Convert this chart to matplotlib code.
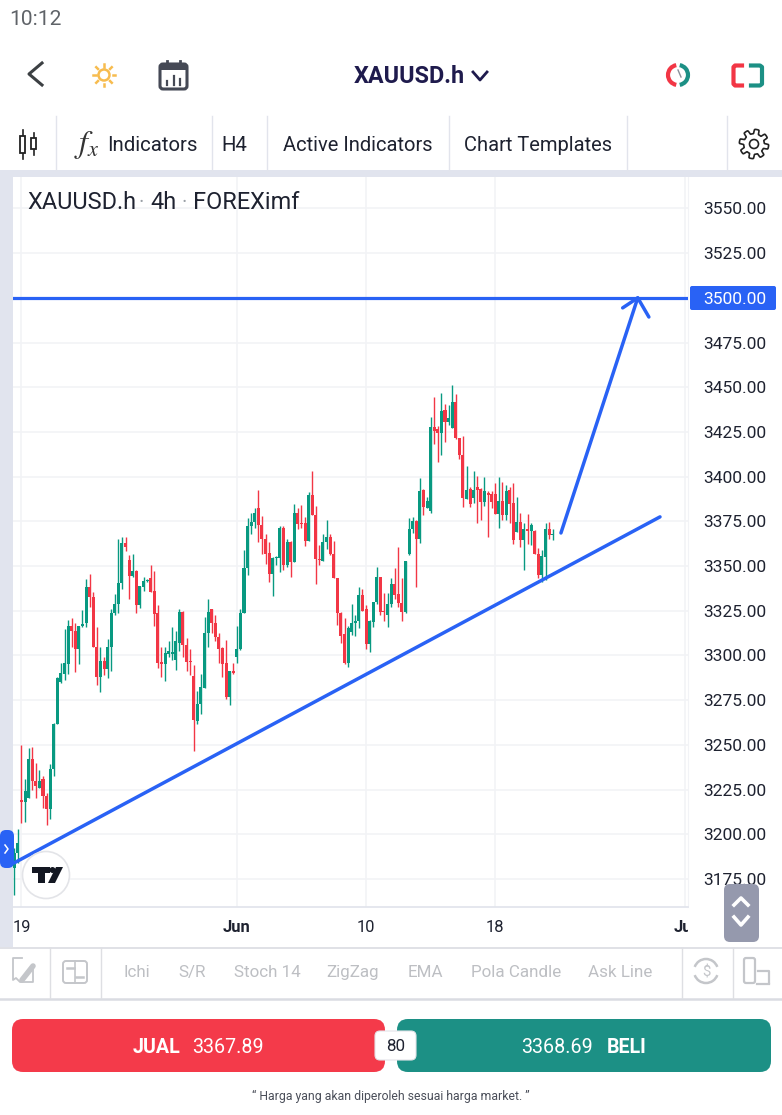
import numpy as np
import matplotlib
matplotlib.use("Agg")
import matplotlib.pyplot as plt
from matplotlib.patches import FancyBboxPatch, Rectangle, Circle, Polygon, Wedge, Arc
from matplotlib.transforms import Bbox

plt.rcParams['font.family'] = ['Roboto', 'DejaVu Sans']
plt.rcParams['mathtext.fontset'] = 'stix'

# ---------- data ----------
opens = [3181.0,3189.4,3219.2,3218.3,3220.5,3242.0,3230.0,3226.1,3230.8,3221.5,
3214.0,3236.4,3261.5,3285.4,3289.7,3295.3,3316.5,3313.9,3303.5,3316.5,
3318.0,3338.1,3332.6,3305.0,3287.8,3297.1,3292.5,3305.0,3323.6,3328.8,
3340.4,3362.8,3353.4,3344.5,3347.5,3328.3,3338.5,3341.5,3343.2,3336.3,
3323.6,3296.2,3295.1,3300.9,3300.9,3297.5,3307.2,3324.5,3305.9,3297.0,
3288.6,3263.6,3272.7,3282.0,3312.4,3325.8,3318.4,3310.2,3304.0,3295.6,
3277.0,3291.4,3299.4,3303.5,3324.0,3348.7,3372.4,3374.6,3382.6,3372.8,
3365.1,3357.1,3345.6,3354.3,3354.3,3371.1,3350.6,3363.3,3352.4,3379.5,
3373.9,3373.9,3364.2,3389.7,3378.5,3353.8,3352.8,3363.6,3366.4,3356.7,
3343.1,3323.9,3312.0,3296.0,3313.3,3318.3,3319.5,3333.8,3326.0,3306.4,
3318.5,3329.7,3343.7,3324.9,3322.6,3328.8,3339.8,3334.2,3329.5,3324.3,
3356.5,3370.7,3375.2,3365.1,3392.5,3382.6,3381.0,3427.6,3426.5,3424.3,
3437.3,3430.8,3427.4,3441.6,3421.5,3412.2,3387.6,3393.0,3387.9,3394.1,
3393.0,3386.1,3390.7,3390.3,3390.3,3379.0,3386.6,3378.6,3392.6,3385.5,
3369.3,3374.9,3364.6,3370.8,3369.8,3369.8,3356.8,3345.1,3355.3,3370.8,
3367.4]
highs = [3192.2,3202.8,3250.0,3230.8,3248.1,3248.7,3240.1,3236.0,3232.6,3223.0,
3239.2,3262.1,3287.8,3295.6,3314.7,3319.9,3320.8,3318.0,3316.5,3325.5,
3343.0,3345.4,3335.7,3315.8,3305.0,3299.0,3309.1,3325.8,3334.4,3365.0,
3366.1,3366.1,3356.2,3356.8,3347.8,3338.9,3343.7,3342.6,3350.4,3347.5,
3328.3,3305.0,3305.0,3308.3,3315.8,3313.4,3325.8,3325.1,3309.6,3303.5,
3294.7,3280.2,3289.7,3321.7,3331.4,3325.8,3322.7,3312.4,3304.6,3308.7,
3291.5,3295.6,3316.5,3325.8,3359.0,3376.7,3379.5,3382.3,3392.5,3378.2,
3367.9,3363.3,3354.9,3355.6,3372.6,3372.6,3364.9,3364.0,3384.7,3382.3,
3384.3,3377.2,3391.6,3403.3,3383.6,3361.8,3367.9,3375.8,3367.9,3364.0,
3343.1,3324.1,3320.8,3316.7,3328.8,3322.6,3338.5,3337.2,3328.2,3319.8,
3330.1,3349.3,3344.1,3335.1,3334.7,3343.1,3348.7,3360.8,3343.1,3353.0,
3376.7,3377.6,3375.8,3399.0,3392.9,3388.8,3433.6,3444.8,3428.4,3446.6,
3440.7,3440.1,3451.3,3446.3,3421.5,3422.8,3406.0,3394.4,3403.4,3400.4,
3393.5,3400.0,3391.7,3392.2,3396.3,3400.0,3397.2,3395.4,3394.4,3396.3,
3388.5,3379.5,3373.9,3379.2,3373.9,3370.2,3360.0,3359.0,3373.9,3374.9,
3370.8]
lows = [3166.1,3183.8,3206.5,3207.1,3220.2,3224.8,3220.2,3225.7,3214.6,3205.2,
3208.4,3232.3,3261.5,3284.5,3286.3,3289.7,3304.6,3291.0,3295.3,3315.8,
3315.8,3327.0,3304.6,3283.2,3279.8,3289.1,3287.3,3291.5,3322.7,3324.0,
3337.2,3358.6,3331.6,3343.7,3324.0,3326.8,3336.3,3341.0,3335.7,3316.5,
3292.9,3287.8,3285.8,3299.0,3297.5,3291.9,3302.7,3299.0,3291.5,3288.8,
3246.3,3261.5,3267.3,3282.0,3305.0,3312.8,3308.3,3295.6,3287.8,3275.5,
3272.2,3289.7,3296.0,3303.1,3323.6,3345.0,3367.9,3371.1,3363.6,3356.5,
3351.1,3341.3,3333.4,3350.6,3346.9,3347.8,3349.3,3344.1,3352.1,3370.7,
3371.1,3361.4,3364.0,3378.5,3340.0,3350.6,3352.8,3359.3,3356.2,3343.1,
3317.0,3307.2,3295.2,3293.7,3311.4,3311.1,3315.2,3325.0,3303.4,3302.1,
3316.1,3328.8,3322.6,3319.5,3315.7,3327.3,3331.6,3326.9,3319.5,3323.9,
3356.2,3368.3,3338.5,3363.1,3378.5,3382.3,3379.9,3418.3,3408.4,3412.2,
3419.6,3428.9,3427.1,3420.9,3409.9,3383.3,3387.4,3383.3,3385.5,3374.3,
3375.8,3383.6,3366.5,3382.3,3379.0,3371.2,3375.8,3375.8,3373.9,3362.4,
3369.3,3360.9,3347.9,3362.4,3361.8,3356.6,3343.2,3340.8,3342.3,3365.0,
3364.6]
closes = [3189.4,3195.0,3218.3,3224.4,3242.0,3230.0,3226.7,3230.0,3221.6,3214.0,
3236.4,3261.7,3287.3,3290.0,3295.6,3316.5,3313.9,3303.5,3316.5,3317.6,
3338.1,3332.6,3305.0,3287.8,3297.1,3292.5,3305.0,3324.0,3328.8,3340.4,
3362.8,3360.5,3344.5,3347.5,3328.3,3338.9,3341.7,3341.9,3335.7,3323.2,
3296.0,3295.1,3301.2,3302.7,3302.2,3307.8,3324.5,3305.9,3296.6,3296.4,
3264.0,3272.7,3282.2,3312.4,3324.2,3318.0,3310.2,3303.7,3295.3,3277.0,
3291.4,3290.1,3303.5,3324.0,3348.8,3372.4,3374.6,3379.8,3372.8,3365.1,
3356.7,3345.6,3354.3,3355.2,3371.1,3350.6,3363.3,3352.4,3379.5,3373.5,
3373.5,3364.2,3389.7,3378.5,3353.8,3353.4,3363.6,3366.1,3356.7,3343.1,
3323.6,3311.1,3295.6,3315.2,3318.3,3319.5,3333.8,3325.0,3306.4,3319.3,
3329.7,3344.1,3324.5,3324.5,3328.8,3339.8,3333.8,3329.2,3324.1,3352.8,
3370.7,3375.2,3365.1,3392.0,3382.8,3386.6,3427.6,3425.8,3424.3,3436.9,
3430.8,3432.7,3441.6,3421.5,3412.2,3387.9,3392.6,3384.8,3392.6,3392.6,
3386.1,3391.7,3389.8,3386.1,3379.0,3386.6,3378.6,3392.2,3384.8,3364.6,
3374.9,3364.6,3370.8,3369.8,3372.8,3356.6,3345.1,3355.7,3370.8,3367.4,
3368.2]

price_ticks = [3175,3200,3225,3250,3275,3300,3325,3350,3375,3400,3425,3450,3475,3500,3525,3550]
date_ticks = [2, 62, 98, 134, 187]
date_labels = ['19', 'Jun', '10', '18', 'Jul']
bold_dates = ['Jun', 'Jul']

level_price = 3500.0
trend_x = [-0.1, 179.9]
trend_y = [3183.9, 3377.5]
arrow_x = [152.3, 173.7]
arrow_y = [3368.5, 3500.0]
barb_x = [169.5, 173.7, 176.8]
barb_y = [3494.4, 3500.0, 3489.3]

tool_labels = ['Ichi', 'S/R', 'Stoch 14', 'ZigZag', 'EMA', 'Pola Candle', 'Ask Line']
tool_centers = [137, 192, 267, 353, 425, 516, 620]

GREEN, RED, BLUE = '#089981', '#F23645', '#2962F5'
BAND = '#E1E4EE'
NAVY = '#1F1B4D'
INK = '#1E2230'

W, H = 782, 1115
fig = plt.figure(figsize=(W/100, H/100), dpi=100, facecolor='white')

def overlay(z):
    a = fig.add_axes([0, 0, 1, 1], zorder=z)
    a.set_xlim(0, W); a.set_ylim(H, 0); a.axis('off')
    a.patch.set_alpha(0)
    return a

def round_box(a, x0, y0, x1, y1, r, fc, ec='none', lw=0, z=2):
    a.add_patch(FancyBboxPatch((x0+r, y0+r), x1-x0-2*r, y1-y0-2*r,
                               boxstyle=f'round,pad={r},rounding_size={r}',
                               fc=fc, ec=ec, lw=lw, zorder=z))

def px(size):
    return size * 0.72

# ---------- background ----------
bg = overlay(0)
bg.add_patch(Rectangle((0, 170), W, 7, fc=BAND, ec='none'))
bg.add_patch(Rectangle((0, 170), 13, 777, fc=BAND, ec='none'))
bg.plot([0, W], [947.5, 947.5], color='#DADCE2', lw=1.2)
bg.plot([0, W], [998.5, 998.5], color='#DADCE2', lw=1.8)
round_box(bg, 690, 286, 776, 310, 2, BLUE)

# ---------- chart ----------
L, R, T, B = 13, 688, 177, 907
ax = fig.add_axes([L/W, (H-B)/H, (R-L)/W, (B-T)/H], zorder=1)
ax.set_xlim(-0.36, 187.7)
ax.set_ylim(3159.3, 3567.6)
ax.yaxis.tick_right()
ax.set_yticks(price_ticks)
ax.set_yticklabels([f'{p:.2f}' for p in price_ticks], fontsize=px(17.4), color=INK)
ax.set_xticks(date_ticks)
ax.set_xticklabels(date_labels, fontsize=px(16.5), color=INK)
ax.tick_params(axis='y', length=0, pad=10.8)
ax.tick_params(axis='x', length=0, pad=9)
ax.grid(True, color='#F2F3F6', lw=1.2)
ax.set_axisbelow(True)
for s in ['top', 'left']:
    ax.spines[s].set_visible(False)
ax.spines['bottom'].set_color('#E0E3EB'); ax.spines['bottom'].set_linewidth(1.2)
ax.spines['right'].set_color('#F2F3F6')
clip = Bbox([[L, 0], [R, H]])
for lbl in ax.get_xticklabels():
    lbl.set_clip_box(clip); lbl.set_clip_on(True)
    if lbl.get_text() in bold_dates:
        lbl.set_fontweight('bold')
for lbl in ax.get_yticklabels():
    if lbl.get_text() == f'{level_price:.2f}':
        lbl.set_color('white')

o, h, l, c = map(np.array, (opens, highs, lows, closes))
x = np.arange(len(o))
col = np.where(c >= o, GREEN, RED)
ax.vlines(x, l, h, colors=col, lw=1.0, zorder=3)
ax.bar(x, np.maximum(np.abs(c-o), 0.6), bottom=np.minimum(o, c), width=0.84,
       color=col, lw=0, zorder=3)

ax.axhline(level_price, color=BLUE, lw=2.3, zorder=4)
ax.plot(trend_x, trend_y, color=BLUE, lw=2.5, zorder=4, solid_capstyle='round')
ax.plot(arrow_x, arrow_y, color=BLUE, lw=2.5, zorder=4, solid_capstyle='round')
ax.plot(barb_x, barb_y, color=BLUE, lw=2.5, zorder=4, solid_capstyle='round')

# ---------- foreground UI ----------
fg = overlay(2)
def T_(x_, y_, s, size, color=INK, ha='left', weight='normal', a=fg, **kw):
    a.text(x_, y_ + 0.07*size, s, fontsize=px(size), color=color, ha=ha, va='center', fontweight=weight, **kw)

T_(9, 18, '10:12', 21, color='#5F6368')
fg.plot([42, 29, 42], [63, 74, 85], color='#3C4043', lw=2.2, solid_joinstyle='round')

# sun
fg.add_patch(Circle((104, 75), 5.5, fc='none', ec='#F7BC4F', lw=1.8))
for ang in np.arange(0, 360, 45):
    ca, sa = np.cos(np.radians(ang)), np.sin(np.radians(ang))
    fg.plot([104+8.5*ca, 104+11*ca], [75+8.5*sa, 75+11*sa], color='#F7BC4F', lw=1.8)

# calendar
round_box(fg, 160, 64, 187, 89, 3, 'none', ec='#454955', lw=2.2)
fg.add_patch(Rectangle((160, 64), 27, 6, fc='#454955', ec='none'))
fg.plot([167, 167], [61, 67], color='#454955', lw=2)
fg.plot([180, 180], [61, 67], color='#454955', lw=2)
for xb, yb in [(167, 81), (173.5, 76), (180, 79)]:
    fg.plot([xb, xb], [yb, 85], color='#454955', lw=1.6)

T_(354, 75, 'XAUUSD.h', 23.4, color=NAVY, weight='bold')
fg.plot([473, 480, 487], [72, 80, 72], color=NAVY, lw=2)

# right icons
fg.add_patch(Arc((678, 75), 20, 20, theta1=100, theta2=260, ec='#F23645', lw=3))
fg.add_patch(Arc((678, 75), 20, 20, theta1=-80, theta2=80, ec='#1C9085', lw=3))
fg.plot([678, 681], [70, 77], color='#8A8F99', lw=1)
fg.plot([742, 735, 733.5, 733.5, 735, 742], [65.5, 65.5, 67, 84, 85.5, 85.5], color='#F23645', lw=3, solid_joinstyle='round')
fg.plot([751, 760, 762, 762, 760, 751], [65.5, 65.5, 67, 84, 85.5, 85.5], color='#1C9085', lw=3, solid_joinstyle='round')

# toolbar
for xs in [56, 212, 267, 449, 627, 727]:
    fg.plot([xs, xs], [116, 170], color='#E2E4EC', lw=1)
fg.add_patch(Rectangle((20, 136), 5, 17, fc='white', ec='#222', lw=1.3, zorder=3))
fg.add_patch(Rectangle((31, 138), 5, 11, fc='white', ec='#222', lw=1.3, zorder=3))
fg.plot([22.5, 22.5], [130, 159], color='#222', lw=1.2, zorder=1)
fg.plot([33.5, 33.5], [133, 155], color='#222', lw=1.2, zorder=1)
T_(74, 143, r'$f_{x}$', 32, color='#333')
T_(107, 144, 'Indicators', 20.4)
T_(221, 144, 'H4', 20.4)
T_(283, 144, 'Active Indicators', 20.2)
T_(464, 144, 'Chart Templates', 20.2)
# gear
th = np.linspace(0, 2*np.pi, 193)
rad = 12.5 + 2.2*np.tanh(4*np.sin(8*th))
fg.add_patch(Polygon(np.c_[754+rad*np.cos(th), 144+rad*np.sin(th)], fc='white', ec='#222', lw=1.2))
fg.add_patch(Circle((754, 144), 4.5, fc='white', ec='#222', lw=1.2))

# legend line
T_(27, 201, 'XAUUSD.h', 23.5)
T_(141, 201, '·', 20, color='#9AA0A6', ha='center')
T_(150, 201, '4h', 23.5)
T_(184, 201, '·', 20, color='#9AA0A6', ha='center')
T_(193, 201, 'FOREXimf', 23.5)

# collapse handle
round_box(fg, 0, 830, 14, 868, 6, '#2962F5', z=5)
fg.plot([5, 8, 5], [845, 849, 853], color='white', lw=1.1, zorder=6)

# TradingView badge
fg.add_patch(Circle((46, 875), 23.5, fc='white', ec='#E3E4E8', lw=1.2, zorder=5))
fg.add_patch(Polygon([(32, 867), (50, 867), (50, 873), (45, 873), (45, 883), (38, 883), (38, 873), (32, 873)],
                     fc='#131722', ec='none', zorder=6))
fg.add_patch(Circle((52.5, 870), 3, fc='#131722', ec='none', zorder=6))
fg.add_patch(Polygon([(56, 867), (63, 867), (55, 883), (48, 883)], fc='#131722', ec='none', zorder=6))

# scroll button
round_box(fg, 724, 884, 759, 942, 6, '#9599AD', z=5)
fg.plot([734, 741, 748], [905, 898, 905], color='white', lw=2.6, zorder=6)
fg.plot([734, 741, 748], [917, 925, 917], color='white', lw=2.6, zorder=6)

# bottom tool strip
for xs in [50, 101, 682, 733]:
    fg.plot([xs, xs], [948, 998], color='#DEDFE3', lw=1)
for s, xc in zip(tool_labels, tool_centers):
    T_(xc, 971, s, 17, color='#BDBFC3', ha='center')
GREY = '#C4C6CA'
fg.plot([22, 13, 13, 16, 20, 33, 33], [958, 958, 980, 978, 982, 982, 970], color=GREY, lw=1.3)
fg.plot([22, 33], [980, 966], color=GREY, lw=4, solid_capstyle='round')
round_box(fg, 63, 961, 87, 983, 3, 'none', ec=GREY, lw=1.4)
fg.plot([75, 75], [961, 983], color=GREY, lw=1.2)
fg.plot([67, 74], [968, 968], color=GREY, lw=1.8)
fg.plot([76, 83], [977, 977], color=GREY, lw=1.8)
fg.add_patch(Arc((706, 971), 24, 24, theta1=200, theta2=340, ec=GREY, lw=1.8))
fg.add_patch(Arc((706, 971), 24, 24, theta1=20, theta2=160, ec=GREY, lw=1.8))
T_(706, 971, '$', 15, color=GREY, ha='center', parse_math=False)
round_box(fg, 744, 958, 755, 983, 2, 'none', ec=GREY, lw=1.6)
fg.plot([758, 769, 769], [971, 971, 983], color=GREY, lw=1.6)
fg.plot([757, 769], [983.5, 983.5], color=GREY, lw=1.6)

# buy / sell
round_box(fg, 12, 1019, 385, 1072, 11, '#F43A4A')
round_box(fg, 397, 1019, 771, 1072, 11, '#1C9085')
T_(133, 1046, 'JUAL', 19.6, color='white', weight='bold')
T_(192, 1046, '3367.89', 19.6, color='white')
T_(521, 1046, '3368.69', 19.6, color='white')
T_(607, 1046, 'BELI', 19.6, color='white', weight='bold')
round_box(fg, 375, 1031, 416, 1060, 5, 'white', ec='#E4E4E8', lw=0.8, z=4)
T_(395.5, 1045.5, '80', 17, color=INK, ha='center', zorder=5)
T_(391, 1096, '“ Harga yang akan diperoleh sesuai harga market. ”', 12.2, color='#4A4E59', ha='center')

fig.savefig('out.png', dpi=100, facecolor='white')
